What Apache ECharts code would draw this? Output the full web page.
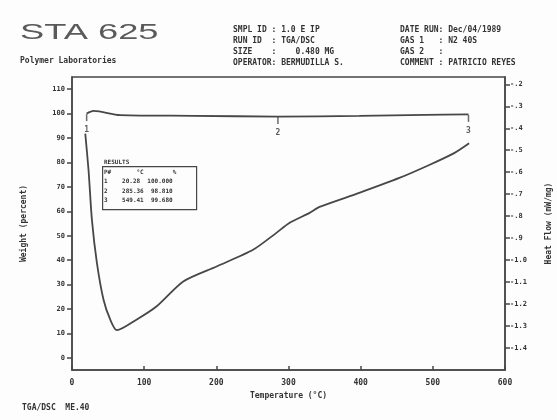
<!DOCTYPE html>
<html>
<head>
<meta charset="utf-8">
<script src="https://cdn.jsdelivr.net/npm/echarts@6/dist/echarts.min.js"></script>
<style>
  html, body { margin: 0; padding: 0; background: #fdfdfd; }
  #chart { width: 557px; height: 420px; }
</style>
</head>
<body>
<div id="chart"></div>
<script>
// TGA weight trace (°C, %)
var tgaTemp   = [20.28, 30, 67, 168, 285.36, 398, 490, 549.41];
var tgaWeight = [100.0, 101.1, 99.4, 99.1, 98.81, 99.1, 99.5, 99.68];

// DSC heat flow trace (°C, mW/mg)
var dscTemp = [18.4, 22.9, 27.6, 34.5, 43.7, 52.9, 62.2, 89.8, 117.4, 154.2, 200.3,
               250.9, 283.2, 301.6, 329.2, 343, 398, 453.6, 495, 529.5, 550.3];
var dscHeat = [-0.424, -0.590, -0.817, -1.012, -1.180, -1.270, -1.319, -1.270, -1.210, -1.097, -1.029,
               -0.953, -0.876, -0.830, -0.785, -0.758, -0.694, -0.626, -0.567, -0.513, -0.468];

// cursor points reported in the RESULTS box
var markerIds     = ['1', '2', '3'];
var markerTemps   = [20.28, 285.36, 549.41];
var markerWeights = [100.0, 98.81, 99.68];

// axis tick labels
var tempTicks   = [0, 100, 200, 300, 400, 500, 600];
var weightTicks = [0, 10, 20, 30, 40, 50, 60, 70, 80, 90, 100, 110];
var heatTicks   = [-1.4, -1.3, -1.2, -1.1, -1.0, -0.9, -0.8, -0.7, -0.6, -0.5, -0.4, -0.3, -0.2];

var INK = '#333333';
var LINE = '#474747';
var MONO = 'DejaVu Sans Mono';

function heatLabel(v) {
  var s = Math.abs(v).toFixed(1);
  if (s.charAt(0) === '0') s = s.substring(1);
  return (v < 0 ? '-' : '') + s;
}

var tgaData = tgaTemp.map(function (t, i) { return [t, tgaWeight[i]]; });
var dscData = dscTemp.map(function (t, i) { return [t, dscHeat[i]]; });
var markerData = markerTemps.map(function (t, i) { return [t, markerWeights[i], markerIds[i]]; });

var resultRows = ['RESULTS', 'P#       \u00b0C        %'];
markerIds.forEach(function (id, i) {
  resultRows.push(id + '    ' + markerTemps[i].toFixed(2) + '  ' + markerWeights[i].toFixed(3));
});

var chart = echarts.init(document.getElementById('chart'), null, { renderer: 'canvas' });

chart.setOption({
  backgroundColor: '#fdfdfd',
  animation: false,
  grid: {
    left: 72, right: 52, top: 77, bottom: 50,
    outerBoundsMode: 'none', containLabel: false,
    show: true, borderColor: LINE, borderWidth: 1.5
  },
  xAxis: {
    type: 'value', min: 0, max: 600, interval: 100,
    name: 'Temperature (\u00b0C)', nameLocation: 'middle', nameGap: 19,
    nameTextStyle: { fontFamily: MONO, fontWeight: 'bold', fontSize: 8, color: INK },
    axisLine: { onZero: false, lineStyle: { color: LINE, width: 1.5 } },
    axisTick: { length: 4, inside: true, lineStyle: { color: LINE, width: 1.5 } },
    axisLabel: { fontFamily: MONO, fontWeight: 'bold', fontSize: 8, color: INK, margin: 9,
                 customValues: tempTicks },
    splitLine: { show: false }
  },
  yAxis: [
    {
      type: 'value', min: -5, max: 115, position: 'left',
      name: 'Weight (percent)', nameLocation: 'middle', nameGap: 44, nameRotate: 90,
      nameTextStyle: { fontFamily: MONO, fontWeight: 'bold', fontSize: 8, color: INK },
      axisLine: { show: true, onZero: false, lineStyle: { color: LINE, width: 1.5 } },
      axisTick: { show: true, length: 5, customValues: weightTicks, lineStyle: { color: LINE, width: 1.5 } },
      axisLabel: { fontFamily: MONO, fontWeight: 'bold', fontSize: 7, color: INK, margin: 7,
                   customValues: weightTicks },
      splitLine: { show: false }
    },
    {
      type: 'value', min: -1.5, max: -0.1667, position: 'right',
      name: 'Heat Flow (mW/mg)', nameLocation: 'middle', nameGap: 40, nameRotate: 90,
      nameTextStyle: { fontFamily: MONO, fontWeight: 'bold', fontSize: 8, color: INK },
      axisLine: { show: true, onZero: false, lineStyle: { color: LINE, width: 1.5 } },
      axisTick: { show: true, length: 5, customValues: heatTicks, lineStyle: { color: LINE, width: 1.5 } },
      axisLabel: { fontFamily: MONO, fontWeight: 'bold', fontSize: 7, color: INK, margin: 5,
                   customValues: heatTicks, formatter: heatLabel },
      splitLine: { show: false }
    }
  ],
  series: [
    {
      name: 'Weight', type: 'line', yAxisIndex: 0, data: tgaData, smooth: 0.3,
      showSymbol: false, lineStyle: { color: LINE, width: 1.8 }
    },
    {
      name: 'Heat Flow', type: 'line', yAxisIndex: 1, data: dscData, smooth: 0.25,
      showSymbol: false, lineStyle: { color: LINE, width: 1.8 }
    },
    {
      name: 'Cursors', type: 'scatter', yAxisIndex: 0, data: markerData,
      symbol: 'rect', symbolSize: [1.5, 7], symbolOffset: [0, 4],
      itemStyle: { color: LINE },
      label: {
        show: true, position: 'bottom', distance: 5,
        formatter: function (p) { return p.data[2]; },
        fontFamily: MONO, fontWeight: 'bold', fontSize: 8, color: INK
      }
    }
  ],
  graphic: [
    {
      type: 'text', left: 20, top: 22, scaleX: 1.65,
      style: { text: 'STA 625', font: '22px "Liberation Sans"', fill: '#5a5a5a' }
    },
    {
      type: 'text', left: 20, top: 57,
      style: { text: 'Polymer Laboratories', font: 'bold 8px "DejaVu Sans Mono"', fill: INK }
    },
    {
      type: 'text', left: 233, top: 24,
      style: {
        text: 'SMPL ID : 1.0 E IP\nRUN ID  : TGA/DSC\nSIZE    :    0.480 MG\nOPERATOR: BERMUDILLA S.',
        font: 'bold 8px "DejaVu Sans Mono"', fill: INK, lineHeight: 11
      }
    },
    {
      type: 'text', left: 400, top: 24,
      style: {
        text: 'DATE RUN: Dec/04/1989\nGAS 1   : N2 40S\nGAS 2   :\nCOMMENT : PATRICIO REYES',
        font: 'bold 8px "DejaVu Sans Mono"', fill: INK, lineHeight: 11
      }
    },
    {
      type: 'rect', left: 102, top: 166,
      shape: { width: 94, height: 43 },
      style: { fill: 'transparent', stroke: LINE, lineWidth: 1.2 }
    },
    {
      type: 'text', left: 104, top: 158,
      style: {
        text: resultRows.join('\n'),
        font: 'bold 6px "DejaVu Sans Mono"', fill: INK, lineHeight: 9.5
      }
    },
    {
      type: 'text', left: 22, top: 404,
      style: { text: 'TGA/DSC  ME.40', font: 'bold 8px "DejaVu Sans Mono"', fill: INK }
    }
  ]
});
</script>
</body>
</html>
